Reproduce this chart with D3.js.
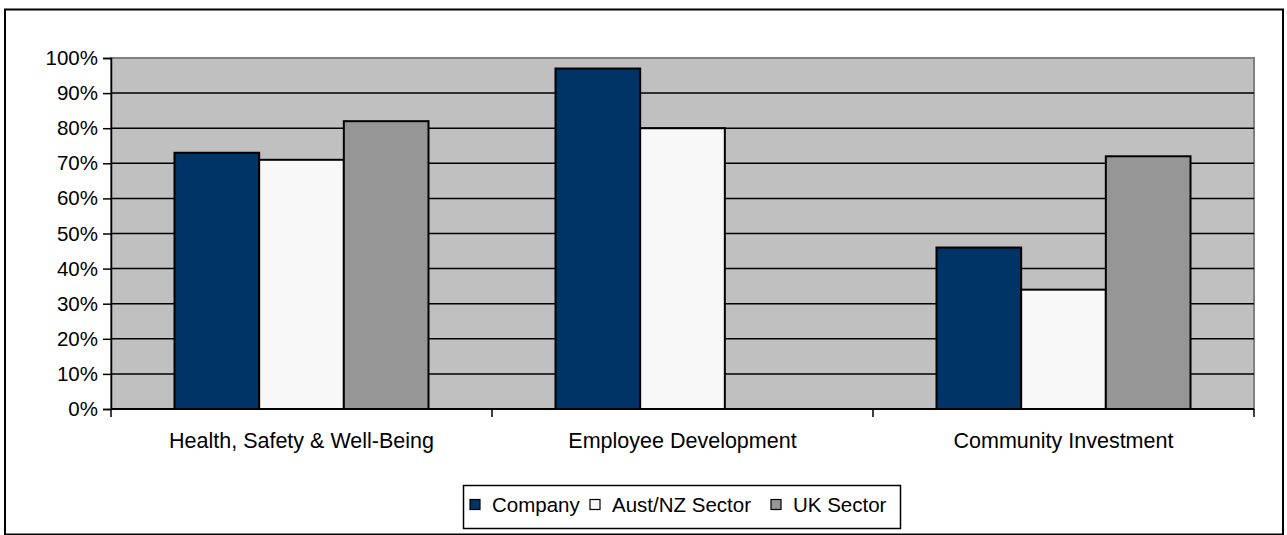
<!DOCTYPE html>
<html>
<head>
<meta charset="utf-8">
<script src="https://cdn.jsdelivr.net/npm/d3@7"></script>
<style>
  body { margin: 0; background: #fff; }
  text { font-family: "Liberation Sans", Arial, sans-serif; fill: #000; }
</style>
</head>
<body>
<div id="chart"></div>
<script>
const categories = ["Health, Safety & Well-Being", "Employee Development", "Community Investment"];
const seriesNames = ["Company", "Aust/NZ Sector", "UK Sector"];
const company = [73, 97, 46];
const austNz = [71, 80, 34];
const ukSector = [82, null, 72];
const yTicks = [0, 10, 20, 30, 40, 50, 60, 70, 80, 90, 100];
const colors = ["#003366", "#f8f8f8", "#969696"];

const width = 1287, height = 535;
const plot = { left: 111, right: 1254, top: 58, bottom: 409 };

const svg = d3.select("#chart")
  .append("svg")
  .attr("width", width)
  .attr("height", height);

// outer frame
svg.append("rect")
  .attr("x", 5).attr("y", 9.5)
  .attr("width", 1278).attr("height", 525)
  .attr("fill", "#fff")
  .attr("stroke", "#000")
  .attr("stroke-width", 2);

const x0 = d3.scaleBand()
  .domain(categories)
  .range([plot.left, plot.right]);

const x1 = d3.scaleBand()
  .domain(seriesNames)
  .range([0, x0.bandwidth()])
  .paddingInner(0)
  .paddingOuter(0.75);

const y = d3.scaleLinear()
  .domain([0, 100])
  .range([plot.bottom, plot.top]);

// plot background
svg.append("rect")
  .attr("x", plot.left).attr("y", plot.top)
  .attr("width", plot.right - plot.left)
  .attr("height", plot.bottom - plot.top)
  .attr("fill", "#c0c0c0")
  .attr("stroke", "#808080")
  .attr("stroke-width", 2);

// gridlines
svg.append("g")
  .selectAll("line")
  .data(yTicks.filter(d => d > 0 && d < 100))
  .enter()
  .append("line")
  .attr("x1", plot.left).attr("x2", plot.right)
  .attr("y1", d => y(d)).attr("y2", d => y(d))
  .attr("stroke", "#000")
  .attr("stroke-width", 1.5);

// bars
const rows = categories.map((c, i) => ({
  cat: c,
  values: [company[i], austNz[i], ukSector[i]]
}));

const groups = svg.append("g")
  .selectAll("g")
  .data(rows)
  .enter()
  .append("g")
  .attr("transform", d => `translate(${x0(d.cat)},0)`);

groups.selectAll("rect")
  .data(d => d.values.map((v, j) => ({ name: seriesNames[j], v: v, j: j })).filter(d => d.v != null))
  .enter()
  .append("rect")
  .attr("x", d => x1(d.name))
  .attr("y", d => y(d.v))
  .attr("width", x1.bandwidth())
  .attr("height", d => y(0) - y(d.v))
  .attr("fill", d => colors[d.j])
  .attr("stroke", "#000")
  .attr("stroke-width", 2);

// y axis
const yAxis = svg.append("g")
  .attr("transform", `translate(${plot.left},0)`)
  .call(d3.axisLeft(y).tickValues(yTicks).tickFormat(d => d + "%").tickSize(8).tickPadding(5));
yAxis.selectAll("path, line").attr("stroke", "#000").attr("stroke-width", 1.5);
yAxis.selectAll("text").style("font-size", "20.5px").style("font-family", "Liberation Sans, Arial, sans-serif");

// x axis
svg.append("line")
  .attr("x1", plot.left).attr("x2", plot.right)
  .attr("y1", plot.bottom).attr("y2", plot.bottom)
  .attr("stroke", "#000").attr("stroke-width", 2);

svg.append("g")
  .selectAll("line")
  .data(categories.concat(["end"]))
  .enter()
  .append("line")
  .attr("x1", (d, i) => plot.left + i * x0.step())
  .attr("x2", (d, i) => plot.left + i * x0.step())
  .attr("y1", plot.bottom)
  .attr("y2", plot.bottom + 8)
  .attr("stroke", "#000")
  .attr("stroke-width", 1.5);

svg.append("g")
  .selectAll("text")
  .data(categories)
  .enter()
  .append("text")
  .attr("x", d => x0(d) + x0.bandwidth() / 2)
  .attr("y", 448)
  .attr("text-anchor", "middle")
  .style("font-size", "21.5px")
  .text(d => d);

// legend
const legend = svg.append("g");
legend.append("rect")
  .attr("x", 463.5).attr("y", 485.5)
  .attr("width", 437).attr("height", 43)
  .attr("fill", "#fff")
  .attr("stroke", "#000")
  .attr("stroke-width", 1.5);

const legendX = [470, 590, 771];
seriesNames.forEach((name, i) => {
  legend.append("rect")
    .attr("x", legendX[i]).attr("y", 499.5)
    .attr("width", 10).attr("height", 10)
    .attr("fill", colors[i])
    .attr("stroke", "#000")
    .attr("stroke-width", 1.2);
  legend.append("text")
    .attr("x", legendX[i] + 22)
    .attr("y", 512)
    .style("font-size", "20.5px")
    .text(name);
});
</script>
</body>
</html>
